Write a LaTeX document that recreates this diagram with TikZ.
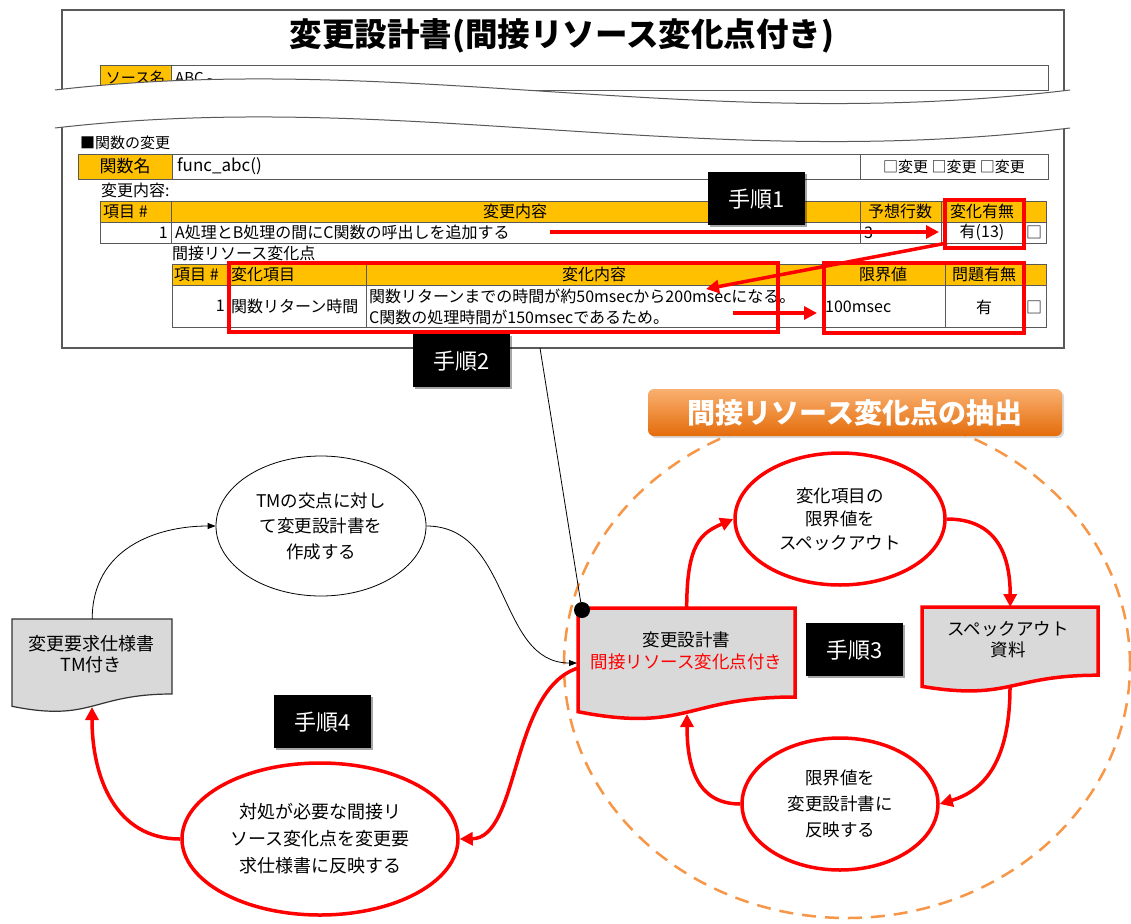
\documentclass[tikz,border=0pt]{standalone}
\usepackage{fontspec}
\setmainfont{Noto Sans CJK JP}
\usetikzlibrary{arrows.meta,shadows,shapes.geometric}
\definecolor{hdr}{HTML}{FFC000}
\definecolor{docgray}{HTML}{D9D9D9}
\definecolor{dashorange}{HTML}{F79646}
\definecolor{bantop}{HTML}{F9B070}
\definecolor{banbot}{HTML}{E46C0A}
\definecolor{gridc}{HTML}{595959}
\newcommand\fsz[2]{\fontsize{#1}{#2}\selectfont}
\begin{document}
\begin{tikzpicture}[x=1pt,y=-1pt,
  cell/.style={draw=gridc,line width=0.8pt,fill=white},
  hcell/.style={draw=gridc,line width=0.8pt,fill=hdr},
  tx/.style={inner sep=0pt,font=\fsz{16}{21}},
  redbox/.style={draw=red,line width=3.5pt,inner sep=0pt},
  redarr/.style={draw=red,line width=3.5pt,-{Triangle[length=13pt,width=13pt]}},
  blkarr/.style={draw=black,line width=0.8pt,-{Triangle[length=8pt,width=6pt]}},
  stepbox/.style={fill=black,text=white,minimum width=97pt,minimum height=53pt,inner sep=0pt,font=\fsz{22}{22},anchor=north west,
     drop shadow={opacity=0.35,shadow xshift=2pt,shadow yshift=-2pt,fill=black}},
  redell/.style={ellipse,draw=red,line width=3.5pt,fill=white,align=center,inner sep=0pt},
  docred/.style={draw=red,line width=3.5pt,fill=docgray},
  docblk/.style={draw=black!80,line width=1.2pt,fill=docgray},
]
\useasboundingbox (0,0) rectangle (1131,923);
\fill[white] (0,0) rectangle (1131,923);

% ---------- document frame ----------
\draw[black!65,line width=1.2pt,fill=white] (62,10) rectangle (1064,348);
\node[font=\fsz{32.5}{32.5}\bfseries,inner sep=0pt] (title) at (562,36) {変更設計書(間接リソース変化点付き)};
\draw[hcell] (100,65) rectangle (171,90);
\draw[cell] (171,65) rectangle (1048,90);
\node[tx,font=\fsz{15}{15}] (srcname) at (135.5,78) {ソース名};
\node[tx,font=\fsz{15}{15},anchor=west] (srcval) at (175,78) {ABC -};

% torn band
\fill[white] (55,90) .. controls (400,50) and (700,135) .. (1070,90) -- (1070,128) .. controls (700,173) and (400,88) .. (55,128) -- cycle;
\draw[black!65,line width=1pt] (55,90) .. controls (400,50) and (700,135) .. (1070,90);
\draw[black!65,line width=1pt] (55,128) .. controls (400,88) and (700,173) .. (1070,128);

% function row
\node[tx,anchor=west,font=\fsz{15}{15}] (sec) at (80,143) {■関数の変更};
\draw[hcell] (78,154) rectangle (172,179);
\draw[cell] (172,154) rectangle (860,179);
\draw[cell] (860,154) rectangle (1048,179);
\node[tx,font=\fsz{17}{17}] (fnlabel) at (125,166.5) {関数名};
\node[tx,anchor=west,font=\fsz{17}{17}] (fnname) at (177,166.5) {func\_abc()};
\node[tx,font=\fsz{15}{15}] (chk) at (954,166.5) {□変更 □変更 □変更};
\node[tx,anchor=west] (chg) at (101,190) {変更内容:};

% table 1
\draw[hcell] (100,201) rectangle (171,222);
\draw[hcell] (171,201) rectangle (860,222);
\draw[hcell] (860,201) rectangle (941,222);
\draw[hcell] (941,201) rectangle (1023,222);
\draw[hcell] (1023,201) rectangle (1046,222);
\draw[cell] (100,222) rectangle (171,243);
\draw[cell] (171,222) rectangle (860,243);
\draw[cell] (860,222) rectangle (941,243);
\draw[cell] (941,222) rectangle (1023,243);
\draw[cell] (1023,222) rectangle (1046,243);
\node[tx,anchor=west] (h1a) at (103,211.5) {項目 \#};
\node[tx] (h1b) at (515,211.5) {変更内容};
\node[tx] (h1c) at (900,211.5) {予想行数};
\node[tx] (h1d) at (982,211.5) {変化有無};
\node[tx,anchor=east] (r1a) at (168,232.5) {1};
\node[tx,anchor=west] (r1b) at (175,232.5) {A処理とB処理の間にC関数の呼出しを追加する};
\node[tx,anchor=west] (r1c) at (864,232.5) {3};
\node[tx] (r1d) at (982,232.5) {有(13)};
\node[tx] (r1e) at (1034,232.5) {□};

\node[tx,anchor=west] (ind) at (172,253) {間接リソース変化点};

% table 2
\draw[hcell] (172,264) rectangle (228,285);
\draw[hcell] (228,264) rectangle (366,285);
\draw[hcell] (366,264) rectangle (822,285);
\draw[hcell] (822,264) rectangle (945,285);
\draw[hcell] (945,264) rectangle (1023,285);
\draw[hcell] (1023,264) rectangle (1046,285);
\draw[cell] (172,285) rectangle (228,327);
\draw[cell] (228,285) rectangle (366,327);
\draw[cell] (366,285) rectangle (822,327);
\draw[cell] (822,285) rectangle (945,327);
\draw[cell] (945,285) rectangle (1023,327);
\draw[cell] (1023,285) rectangle (1046,327);
\node[tx,anchor=west] (h2a) at (174,274.5) {項目 \#};
\node[tx,anchor=west] (h2b) at (231,274.5) {変化項目};
\node[tx] (h2c) at (594,274.5) {変化内容};
\node[tx] (h2d) at (883,274.5) {限界値};
\node[tx] (h2e) at (984,274.5) {問題有無};
\node[tx,anchor=east] (r2a) at (225,306) {1};
\node[tx,anchor=west] (r2b) at (231,306) {関数リターン時間};
\node[tx,anchor=west] (r2c) at (369,296) {関数リターンまでの時間が約50msecから200msecになる。};
\node[tx,anchor=west] (r2d) at (369,317) {C関数の処理時間が150msecであるため。};
\node[tx,anchor=west] (r2e) at (825,307) {100msec};
\node[tx] (r2f) at (984,307) {有};
\node[tx] (r2g) at (1034,307) {□};

% red boxes
\node[redbox,minimum width=79pt,minimum height=48pt,anchor=north west] (rb1) at (943,198) {};
\node[redbox,minimum width=549pt,minimum height=69pt,anchor=north west] (rb2) at (227,261) {};
\node[redbox,minimum width=200pt,minimum height=70pt,anchor=north west] (rb3) at (822,261) {};

% table arrows
\coordinate (a1s) at (550,232);
\coordinate (a1e) at (939,232);
\coordinate (a2s) at (947,243);
\coordinate (a2e) at (706,289);
\coordinate (a3s) at (733,313);
\coordinate (a3e) at (817,313);
\draw[redarr] (a1s) -- (a1e);
\draw[redarr] (a2s) -- (a2e);
\draw[redarr] (a3s) -- (a3e);

% ---------- lower diagram ----------
\draw[dashorange,line width=2.5pt,dash pattern=on 14pt off 9pt] (847,665) ellipse [x radius=283pt, y radius=253pt];

% step labels 1 and 2
\node[stepbox] (s1) at (708,172) {手順1};
\node[stepbox] (s2) at (413,334) {手順2};

% banner
\node[top color=bantop,bottom color=banbot,rounded corners=6pt,minimum width=414pt,minimum height=47pt,
      text=white,font=\fsz{28}{28}\bfseries,inner sep=0pt,
      drop shadow={opacity=0.3,shadow xshift=2pt,shadow yshift=-2pt}] (banner) at (855,412.5) {間接リソース変化点の抽出};

% document shapes
% docA
\draw[docblk] (12,619) -- (172,619) -- (172,694) .. controls (92,694) and (92,722.5) .. (12,706.3) -- cycle;
\node[minimum width=160pt,minimum height=88pt,anchor=north west,inner sep=0pt] (docA) at (12,619) {};
\node[align=center,font=\fsz{18}{21},inner sep=0pt] (docAt) at (91,654.5) {変更要求仕様書\\TM付き};
\coordinate (docAbot) at (92,707);

% docB
\draw[docred] (578,608) -- (795,608) -- (795,697) .. controls (686.5,697) and (686.5,733) .. (578,711.7) -- cycle;
\node[minimum width=217pt,minimum height=105pt,anchor=north west,inner sep=0pt] (docB) at (578,608) {};
\node[align=center,font=\fsz{17.5}{22},inner sep=0pt] (docBt) at (686.5,651) {変更設計書\\\textcolor{red}{間接リソース変化点付き}};
\coordinate (docBbot) at (687,714);
\coordinate (docBin) at (577,663);
\coordinate (docBout) at (578,668);

% callout line and dot
\coordinate (callout) at (540,348);
\node[circle,fill=black,minimum size=16pt,inner sep=0pt] (dot) at (582,610) {};
\draw[line width=0.8pt] (callout) -- (dot);

% docC
\draw[docred] (922,607) -- (1098,607) -- (1098,675.2) .. controls (1010,675.2) and (1010,701.1) .. (922,686.4) -- cycle;
\node[minimum width=176pt,minimum height=80pt,anchor=north west,inner sep=0pt] (docC) at (922,607) {};
\node[align=center,font=\fsz{17.5}{21},inner sep=0pt] (docCt) at (1008,640) {スペックアウト\\資料};
\coordinate (docCbot) at (1010,687);

% ellipses
\node[ellipse,draw=black,line width=0.8pt,fill=white,minimum width=210pt,minimum height=140pt,align=center,inner sep=0pt,font=\fsz{17.5}{25.5}] (E3) at (321,526) {TMの交点に対し\\て変更設計書を\\作成する};
\node[redell,minimum width=276pt,minimum height=152pt,font=\fsz{18}{27}] (E4) at (320,839) {対処が必要な間接リ\\ソース変化点を変更要\\求仕様書に反映する};
\node[redell,minimum width=210pt,minimum height=132pt,font=\fsz{17.5}{23.5}] (E1) at (840,519) {変化項目の\\限界値を\\スペックアウト};
\node[redell,minimum width=196pt,minimum height=132pt,font=\fsz{17.5}{26}] (E2) at (840,804) {限界値を\\変更設計書に\\反映する};

% step labels 3 and 4
\node[stepbox] (s3) at (806,623) {手順3};
\node[stepbox] (s4) at (274,695) {手順4};

% connectors
\draw[blkarr] (docA.north) .. controls +(0,-70) and +(-60,0) .. (E3.west);
\draw[blkarr] (E3.east) .. controls +(85,0) and +(-80,0) .. (docBin);
\draw[redarr] (docBout) .. controls (510,690) and (520,838) .. (E4.east);
\draw[redarr] (E4.west) .. controls +(-65,0) and +(0,70) .. (docAbot);
\draw[redarr] (docB.north) .. controls +(0,-65) and +(-32,14) .. (E1.west);
\draw[redarr] (E1.east) .. controls +(48,0) and +(0,-55) .. (docC.north);
\draw[redarr] (docCbot) .. controls +(0,80) and +(40,-12) .. (E2.east);
\draw[redarr] (E2.west) .. controls +(-42,0) and +(0,55) .. (docBbot);
\end{tikzpicture}
\end{document}
